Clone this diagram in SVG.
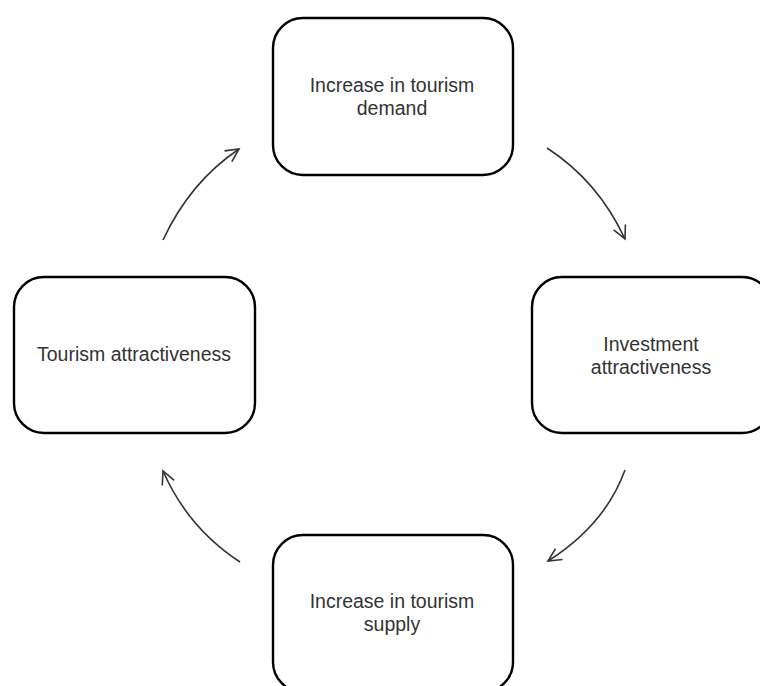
<svg xmlns="http://www.w3.org/2000/svg" width="760" height="686" viewBox="0 0 760 686">
<style>
.box{fill:#fff;stroke:#000;stroke-width:2.4}
.lbl{font-family:"Liberation Sans",Arial,sans-serif;font-size:19.5px;fill:#333;text-anchor:middle}
.conn{fill:none;stroke:#333;stroke-width:1.6;marker-end:url(#ah)}
</style>
<defs>
<marker id="ah" markerUnits="userSpaceOnUse" viewBox="0 0 16 16" refX="14" refY="8" markerWidth="16" markerHeight="16" orient="auto">
<path d="M1,1.5 L14,8 L1,14.5" fill="none" stroke="#333" stroke-width="1.6"/>
</marker>
</defs>
<rect width="760" height="686" fill="#fff"/>
<g id="connectors">
<path class="conn" d="M547,148 Q598,181 625,239"/>
<path class="conn" d="M625,470 Q605,525 548,561"/>
<path class="conn" d="M240,562 Q188,528 163,471"/>
<path class="conn" d="M163,240 Q190,182 239,149"/>
</g>
<g id="demand">
<rect class="box" x="273" y="18" width="240" height="157" rx="30"/>
<text class="lbl" x="392" y="92">Increase in tourism</text>
<text class="lbl" x="392" y="115">demand</text>
</g>
<g id="investment">
<rect class="box" x="532" y="277" width="240" height="156" rx="30"/>
<text class="lbl" x="651" y="351">Investment</text>
<text class="lbl" x="651" y="374">attractiveness</text>
</g>
<g id="supply">
<rect class="box" x="273" y="535" width="240" height="157" rx="30"/>
<text class="lbl" x="392" y="608">Increase in tourism</text>
<text class="lbl" x="392" y="631">supply</text>
</g>
<g id="tourism">
<rect class="box" x="14" y="277" width="241" height="156" rx="30"/>
<text class="lbl" x="134" y="361">Tourism attractiveness</text>
</g>
</svg>
